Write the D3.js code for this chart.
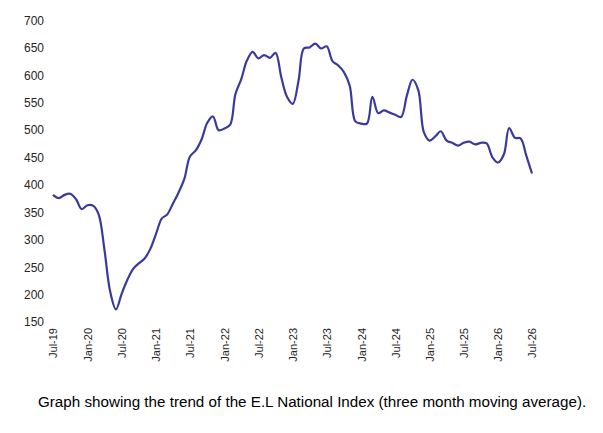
<!DOCTYPE html>
<html>
<head>
<meta charset="utf-8">
<script src="https://cdn.jsdelivr.net/npm/d3@7"></script>
<style>
  body { margin: 0; background: #fff; }
  svg { display: block; font-family: "Liberation Sans", Arial, sans-serif; }
  .axis text { fill: #262626; }
  .caption { fill: #000; font-size: 15.2px; }
</style>
</head>
<body>
<svg id="chart" width="603" height="433"></svg>
<script>
'use strict';

// monthly index values, three month moving average, starting Jul-19
const firstMonth = 'Jul-19';
const indexValues = [
  381, 375, 381, 383, 373, 355, 362, 361, 345, 280, 205, 172,
  200, 226, 246, 256, 265, 282, 310, 338, 345, 365, 385, 410,
  451, 462, 482, 512, 524, 499, 502, 509, 565, 592, 626, 642,
  630, 636, 631, 640, 595, 560, 547, 590, 648, 650, 657, 648,
  652, 625, 617, 605, 580, 515, 511, 511, 560, 530, 535, 531,
  527, 523, 562, 591, 572, 495, 480, 488, 497, 480, 476, 471,
  476, 478, 473, 476, 475, 450, 440, 455, 503, 485, 484, 452,
  420
];
const tickLabels = [
  'Jul-19', 'Jan-20', 'Jul-20', 'Jan-21', 'Jul-21', 'Jan-22', 'Jul-22', 'Jan-23',
  'Jul-23', 'Jan-24', 'Jul-24', 'Jan-25', 'Jul-25', 'Jan-26', 'Jul-26'
];
const yTicks = [150, 200, 250, 300, 350, 400, 450, 500, 550, 600, 650, 700];
const caption = 'Graph showing the trend of the E.L National Index (three month moving average).';

const parseMonth = d3.timeParse('%b-%y');
const start = parseMonth(firstMonth);
const data = indexValues.map((v, i) => ({ date: d3.timeMonth.offset(start, i), value: v }));

const svg = d3.select('#chart');

const x = d3.scaleTime()
  .domain([start, parseMonth(tickLabels[tickLabels.length - 1])])
  .range([53, 532]);

const y = d3.scaleLinear()
  .domain([150, 700])
  .range([321.5, 20]);

// y axis: labels only, no line or ticks
const yAxis = svg.append('g')
  .attr('class', 'axis')
  .attr('transform', 'translate(44,0)')
  .call(d3.axisLeft(y).tickValues(yTicks).tickSize(0).tickPadding(0));
yAxis.select('.domain').remove();
yAxis.selectAll('text').style('font-size', '12px').attr('dy', '0.36em');

// x axis: rotated month labels
const xAxis = svg.append('g')
  .attr('class', 'axis')
  .attr('transform', 'translate(0,328)')
  .call(d3.axisBottom(x)
    .tickValues(tickLabels.map(parseMonth))
    .tickFormat(d3.timeFormat('%b-%y'))
    .tickSize(0));
xAxis.select('.domain').remove();
xAxis.selectAll('text')
  .style('font-size', '11px')
  .attr('text-anchor', 'end')
  .attr('transform', 'rotate(-90)')
  .attr('x', 0)
  .attr('y', 0)
  .attr('dy', '0.35em');

const line = d3.line()
  .x(d => x(d.date))
  .y(d => y(d.value))
  .curve(d3.curveCatmullRom.alpha(0.5));

svg.append('path')
  .datum(data)
  .attr('fill', 'none')
  .attr('stroke', '#3a3a9c')
  .attr('stroke-width', 2.2)
  .attr('stroke-linejoin', 'round')
  .attr('d', line);

svg.append('text')
  .attr('class', 'caption')
  .attr('x', 38)
  .attr('y', 407)
  .text(caption);
</script>
</body>
</html>
